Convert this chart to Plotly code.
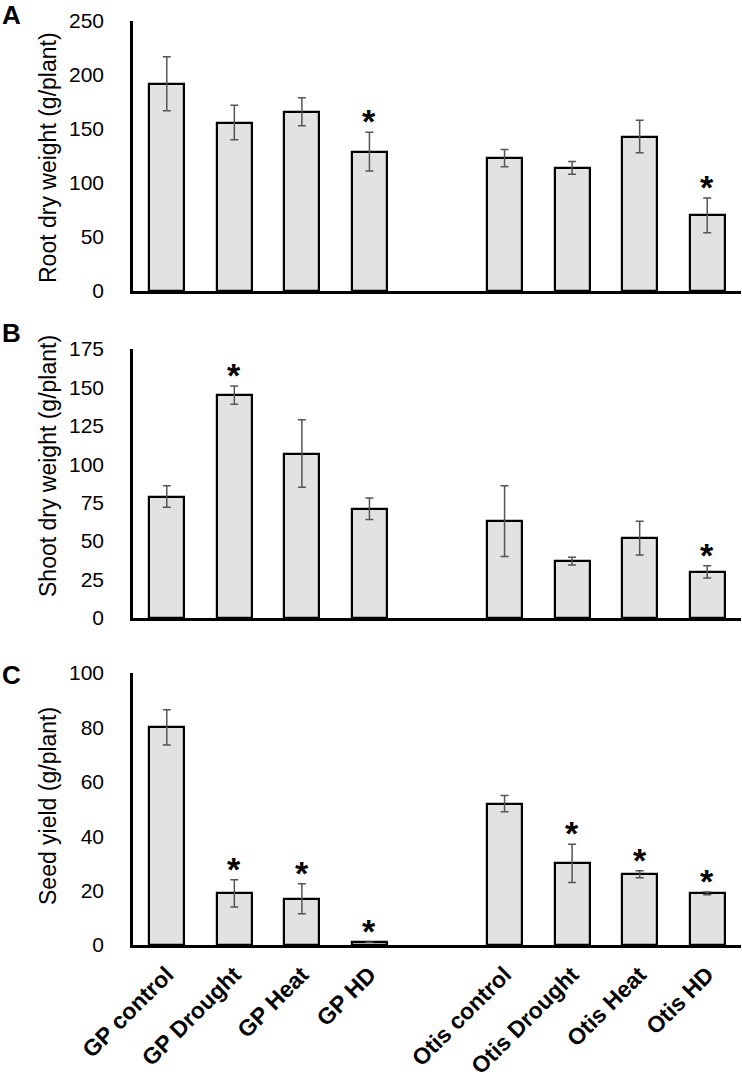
import plotly.graph_objects as go

# ---- data ----
gp_labels = ["GP control", "GP Drought", "GP Heat", "GP HD"]
otis_labels = ["Otis control", "Otis Drought", "Otis Heat", "Otis HD"]

root_gp = [192, 156, 166, 129]
root_gp_err = [25, 16, 13, 18]
root_otis = [123, 114, 143, 70]
root_otis_err = [8, 6, 15, 16]
root_sig_gp = [False, False, False, True]
root_sig_otis = [False, False, False, True]

shoot_gp = [79, 145, 107, 71]
shoot_gp_err = [7, 6, 22, 7]
shoot_otis = [63, 37, 52, 30]
shoot_otis_err = [23, 2.5, 11, 4]
shoot_sig_gp = [False, True, False, False]
shoot_sig_otis = [False, False, False, True]

seed_gp = [80, 19, 17, 1]
seed_gp_err = [6.5, 5, 5.5, 0]
seed_otis = [52, 30, 26, 19]
seed_otis_err = [3, 7, 1.3, 0.5]
seed_sig_gp = [False, True, True, True]
seed_sig_otis = [False, True, True, True]

panel_letters = ["A", "B", "C"]
y_titles = ["Root dry weight (g/plant)", "Shoot dry weight (g/plant)", "Seed yield (g/plant)"]
y_max = [250, 175, 100]
y_dtick = [50, 25, 20]

# ---- layout helpers ----
W, H = 742, 1083
labels = gp_labels + otis_labels
xpos = list(range(len(gp_labels))) + [len(gp_labels) + 1 + i for i in range(len(otis_labels))]

panels = [
    (root_gp + root_otis, root_gp_err + root_otis_err, root_sig_gp + root_sig_otis),
    (shoot_gp + shoot_otis, shoot_gp_err + shoot_otis_err, shoot_sig_gp + shoot_sig_otis),
    (seed_gp + seed_otis, seed_gp_err + seed_otis_err, seed_sig_gp + seed_sig_otis),
]
# pixel extents (top, bottom) of each plot area
px_domains = [(21, 291), (349, 618), (673, 945)]
title_centers = [158, 466, 806]
letter_centers = [15, 333, 675]
x_left, x_right = 133, 741

fig = go.Figure()
annotations = []
for i, (vals, errs, sig) in enumerate(panels):
    n = "" if i == 0 else str(i + 1)
    fig.add_trace(go.Bar(
        x=xpos, y=vals, width=0.52,
        marker=dict(color="#e2e2e2", line=dict(color="black", width=2.2)),
        error_y=dict(type="data", array=errs, color="#555555", thickness=1.5, width=4),
        xaxis="x" + n, yaxis="y" + n, showlegend=False, hoverinfo="skip",
    ))
    top, bot = px_domains[i]
    dom = [1 - bot / H, 1 - top / H]
    fig.update_layout(**{
        "xaxis" + n: dict(
            domain=[x_left / W, x_right / W], range=[-0.5, max(xpos) + 0.5],
            anchor="y" + n, showline=True, linecolor="black", linewidth=3,
            showgrid=False, zeroline=False, ticks="", automargin=False,
            tickmode="array", tickvals=xpos,
            ticktext=labels if i == 2 else [""] * len(labels),
            showticklabels=(i == 2), tickangle=-45, ticklabelstandoff=4,
            tickfont=dict(family="Liberation Sans", size=23, color="black", weight="bold"),
        ),
        "yaxis" + n: dict(
            domain=dom, range=[0, y_max[i]], dtick=y_dtick[i], anchor="x" + n,
            showline=True, linecolor="black", linewidth=2.5, automargin=False,
            showgrid=False, zeroline=False, ticks="", ticklabelstandoff=22,
            tickfont=dict(family="Liberation Sans", size=21, color="black"),
        ),
    })
    for xp, v, e, s in zip(xpos, vals, errs, sig):
        if s:
            annotations.append(dict(
                x=xp, y=v + e, xref="x" + n, yref="y" + n, text="*", showarrow=False,
                yanchor="bottom", yshift=-10,
                font=dict(family="Liberation Sans", size=34, color="black", weight="bold"),
            ))
    annotations.append(dict(
        x=48 / W, y=1 - title_centers[i] / H, xref="paper", yref="paper",
        text=y_titles[i], textangle=-90, showarrow=False,
        xanchor="center", yanchor="middle",
        font=dict(family="Liberation Sans", size=23, color="black"),
    ))
    annotations.append(dict(
        x=0, y=1 - letter_centers[i] / H, xref="paper", yref="paper",
        text="<b>" + panel_letters[i] + "</b>", showarrow=False,
        xanchor="left", yanchor="middle",
        font=dict(family="Liberation Sans", size=26, color="black"),
    ))

fig.update_layout(
    template="none",
    width=W, height=H, margin=dict(l=0, r=0, t=0, b=0, autoexpand=False),
    plot_bgcolor="white", paper_bgcolor="white",
    annotations=annotations, bargap=0, hovermode=False,
)
fig.write_html(
    "out.html",
    config={"displayModeBar": False},
    post_script="document.body.style.margin='0';document.body.style.overflow='hidden';",
)
